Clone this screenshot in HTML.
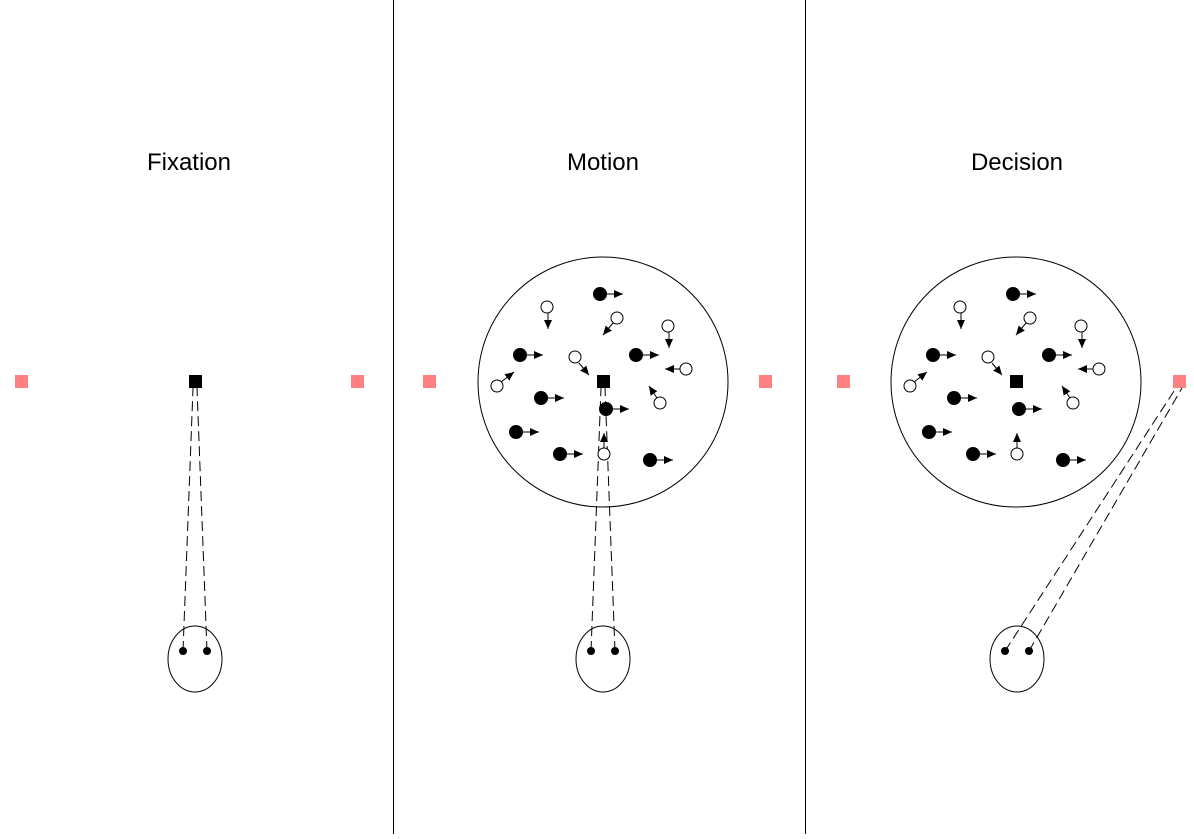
<!DOCTYPE html>
<html><head><style>body{margin:0;background:#fff}</style></head><body>
<svg width="1194" height="834" xmlns="http://www.w3.org/2000/svg" font-family="Liberation Sans, sans-serif">
<defs>
<marker id="a" markerWidth="10" markerHeight="10" refX="9" refY="4.5" orient="auto" markerUnits="userSpaceOnUse"><path d="M0,0.5 L9,4.5 L0,8.5z" fill="#000"/></marker>
<g id="dots" stroke="#000" stroke-width="1">
<g fill="#000">
<circle cx="600" cy="294" r="6.5"/><circle cx="520" cy="355" r="6.5"/><circle cx="636" cy="355" r="6.5"/><circle cx="541" cy="398" r="6.5"/><circle cx="606" cy="409" r="6.5"/><circle cx="516" cy="432" r="6.5"/><circle cx="560" cy="454" r="6.5"/><circle cx="650" cy="460" r="6.5"/>
</g>
<g marker-end="url(#a)">
<line x1="606" y1="294" x2="623" y2="294"/><line x1="526" y1="355" x2="543" y2="355"/><line x1="642" y1="355" x2="659" y2="355"/><line x1="547" y1="398" x2="564" y2="398"/><line x1="612" y1="409" x2="629" y2="409"/><line x1="522" y1="432" x2="539" y2="432"/><line x1="566" y1="454" x2="583" y2="454"/><line x1="656" y1="460" x2="673" y2="460"/>
<line x1="548" y1="313" x2="548" y2="329"/><line x1="613" y1="323" x2="603" y2="335"/><line x1="669" y1="332" x2="669" y2="348"/><line x1="579" y1="363" x2="589" y2="375"/><line x1="501" y1="382" x2="514" y2="372"/><line x1="680" y1="369" x2="665" y2="369"/><line x1="657" y1="398" x2="649" y2="386"/><line x1="604" y1="448" x2="604" y2="433"/>
</g>
<g fill="#fff">
<circle cx="547" cy="307" r="6"/><circle cx="617" cy="318" r="6"/><circle cx="668" cy="326" r="6"/><circle cx="575" cy="357" r="6"/><circle cx="497" cy="386" r="6"/><circle cx="686" cy="369" r="6"/><circle cx="660" cy="403" r="6"/><circle cx="604" cy="454" r="6"/>
</g>
</g>
</defs>
<line x1="393.5" y1="0" x2="393.5" y2="834" stroke="#000"/>
<line x1="805.5" y1="0" x2="805.5" y2="834" stroke="#000"/>
<g font-size="24" text-anchor="middle" fill="#000">
<text x="189" y="170">Fixation</text><text x="603" y="170">Motion</text><text x="1017" y="170">Decision</text>
</g>
<g fill="#ff8080">
<rect x="15" y="375" width="13" height="13"/><rect x="351" y="375" width="13" height="13"/><rect x="423" y="375" width="13" height="13"/><rect x="759" y="375" width="13" height="13"/><rect x="837" y="375" width="13" height="13"/><rect x="1173" y="375" width="13" height="13"/>
</g>
<g fill="none" stroke="#000">
<circle cx="603" cy="382" r="125"/><circle cx="1016" cy="382" r="125"/>
<ellipse cx="195" cy="659" rx="27" ry="33"/><ellipse cx="603" cy="659" rx="27" ry="33"/><ellipse cx="1017" cy="659" rx="27" ry="33"/>
<g stroke-dasharray="10,5">
<line x1="183" y1="651" x2="193" y2="388"/><line x1="207" y1="651" x2="197" y2="388"/>
<line x1="591" y1="651" x2="601" y2="388"/><line x1="615" y1="651" x2="605" y2="388"/>
<line x1="1005" y1="651" x2="1176" y2="388"/><line x1="1029" y1="651" x2="1182" y2="388"/>
</g>
</g>
<g fill="#000">
<rect x="189" y="375" width="13" height="13"/><rect x="597" y="375" width="13" height="13"/><rect x="1010" y="375" width="13" height="13"/>
<circle cx="183" cy="651" r="4"/><circle cx="207" cy="651" r="4"/><circle cx="591" cy="651" r="4"/><circle cx="615" cy="651" r="4"/><circle cx="1005" cy="651" r="4"/><circle cx="1029" cy="651" r="4"/>
</g>
<use href="#dots"/>
<use href="#dots" transform="translate(413,0)"/>
</svg>
</body></html>
